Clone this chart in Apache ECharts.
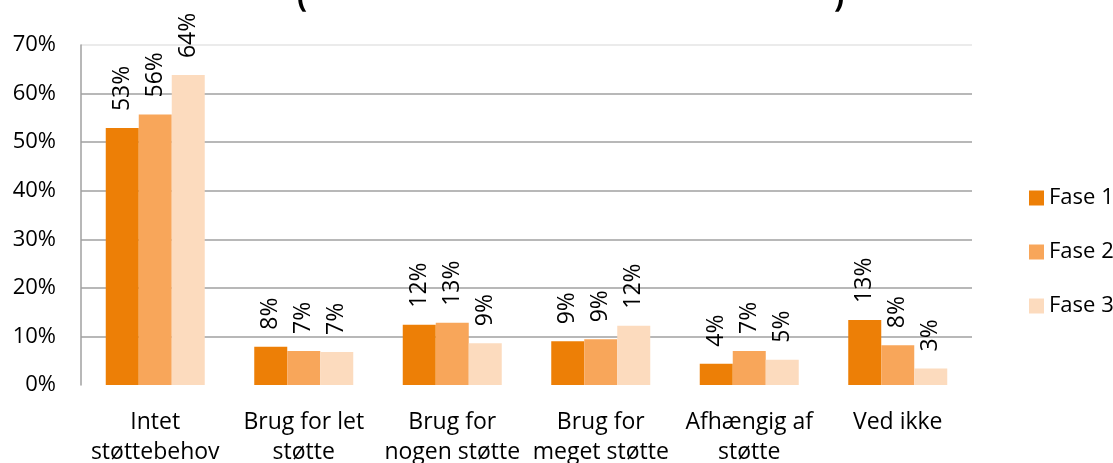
<!DOCTYPE html>
<html>
<head>
<meta charset="utf-8">
<script src="https://cdn.jsdelivr.net/npm/echarts@6/dist/echarts.min.js"></script>
<style>
  html, body { margin: 0; padding: 0; background: #fff; }
  #chart { width: 1113px; height: 463px; }
</style>
</head>
<body>
<div id="chart"></div>
<script>
  // data (percent)
  var categories = ['Intet\nstøttebehov', 'Brug for let\nstøtte', 'Brug for\nnogen støtte', 'Brug for\nmeget støtte', 'Afhængig af\nstøtte', 'Ved ikke'];
  var seriesNames = ['Fase 1', 'Fase 2', 'Fase 3'];
  var fase1 = [52.9, 7.9, 12.4, 9.0, 4.4, 13.4];
  var fase2 = [55.7, 7.0, 12.8, 9.4, 7.0, 8.2];
  var fase3 = [63.8, 6.8, 8.6, 12.2, 5.2, 3.4];
  var colors = ['#ED7F06', '#F8A65A', '#FCDBBE'];

  var font = 'Open Sans';

  function makeSeries(name, data, color) {
    return {
      name: name,
      type: 'bar',
      data: data,
      barWidth: 33,
      barGap: '0%',
      itemStyle: { color: color },
      label: {
        show: true,
        position: 'top',
        rotate: 90,
        align: 'left',
        verticalAlign: 'middle',
        distance: 17,
        fontFamily: font,
        fontSize: 23,
        color: '#000',
        formatter: function (p) { return Math.round(p.value) + '%'; }
      }
    };
  }

  var chart = echarts.init(document.getElementById('chart'));
  chart.setOption({
    animation: false,
    color: colors,
    graphic: [
      // bottoms of the cut-off title's parentheses
      { type: 'text', left: 297, top: -17, style: { text: '(', font: 'bold 30px ' + font, fill: '#000' } },
      { type: 'text', left: 834, top: -17, style: { text: ')', font: 'bold 30px ' + font, fill: '#000' } }
    ],
    grid: { left: 81, top: 45, right: 141, bottom: 78, outerBoundsMode: 'none' },
    legend: {
      orient: 'vertical',
      left: 1024,
      top: 182,
      icon: 'rect',
      itemWidth: 15,
      itemHeight: 15,
      itemGap: 32,
      textStyle: { fontFamily: font, fontSize: 22, lineHeight: 22, color: '#000' },
      data: seriesNames
    },
    xAxis: {
      type: 'category',
      data: categories,
      axisLine: { show: false },
      axisTick: { show: false },
      axisLabel: {
        interval: 0,
        margin: 22,
        fontFamily: font,
        fontSize: 23,
        lineHeight: 30,
        color: '#000'
      }
    },
    yAxis: {
      type: 'value',
      min: 0,
      max: 70,
      interval: 10,
      axisLine: { show: true, lineStyle: { color: '#A0A0A0', width: 1.5 } },
      axisTick: { show: false },
      axisLabel: {
        margin: 25,
        fontFamily: font,
        fontSize: 22,
        color: '#000',
        formatter: '{value}%'
      },
      splitLine: {
        lineStyle: {
          width: 1.5,
          color: ['rgba(0,0,0,0)', '#A0A0A0', '#A0A0A0', '#A0A0A0', '#A0A0A0', '#A0A0A0', '#A0A0A0', '#E4E4E4']
        }
      }
    },
    series: [
      makeSeries(seriesNames[0], fase1, colors[0]),
      makeSeries(seriesNames[1], fase2, colors[1]),
      makeSeries(seriesNames[2], fase3, colors[2])
    ]
  });
  window.addEventListener('resize', chart.resize);
</script>
</body>
</html>
